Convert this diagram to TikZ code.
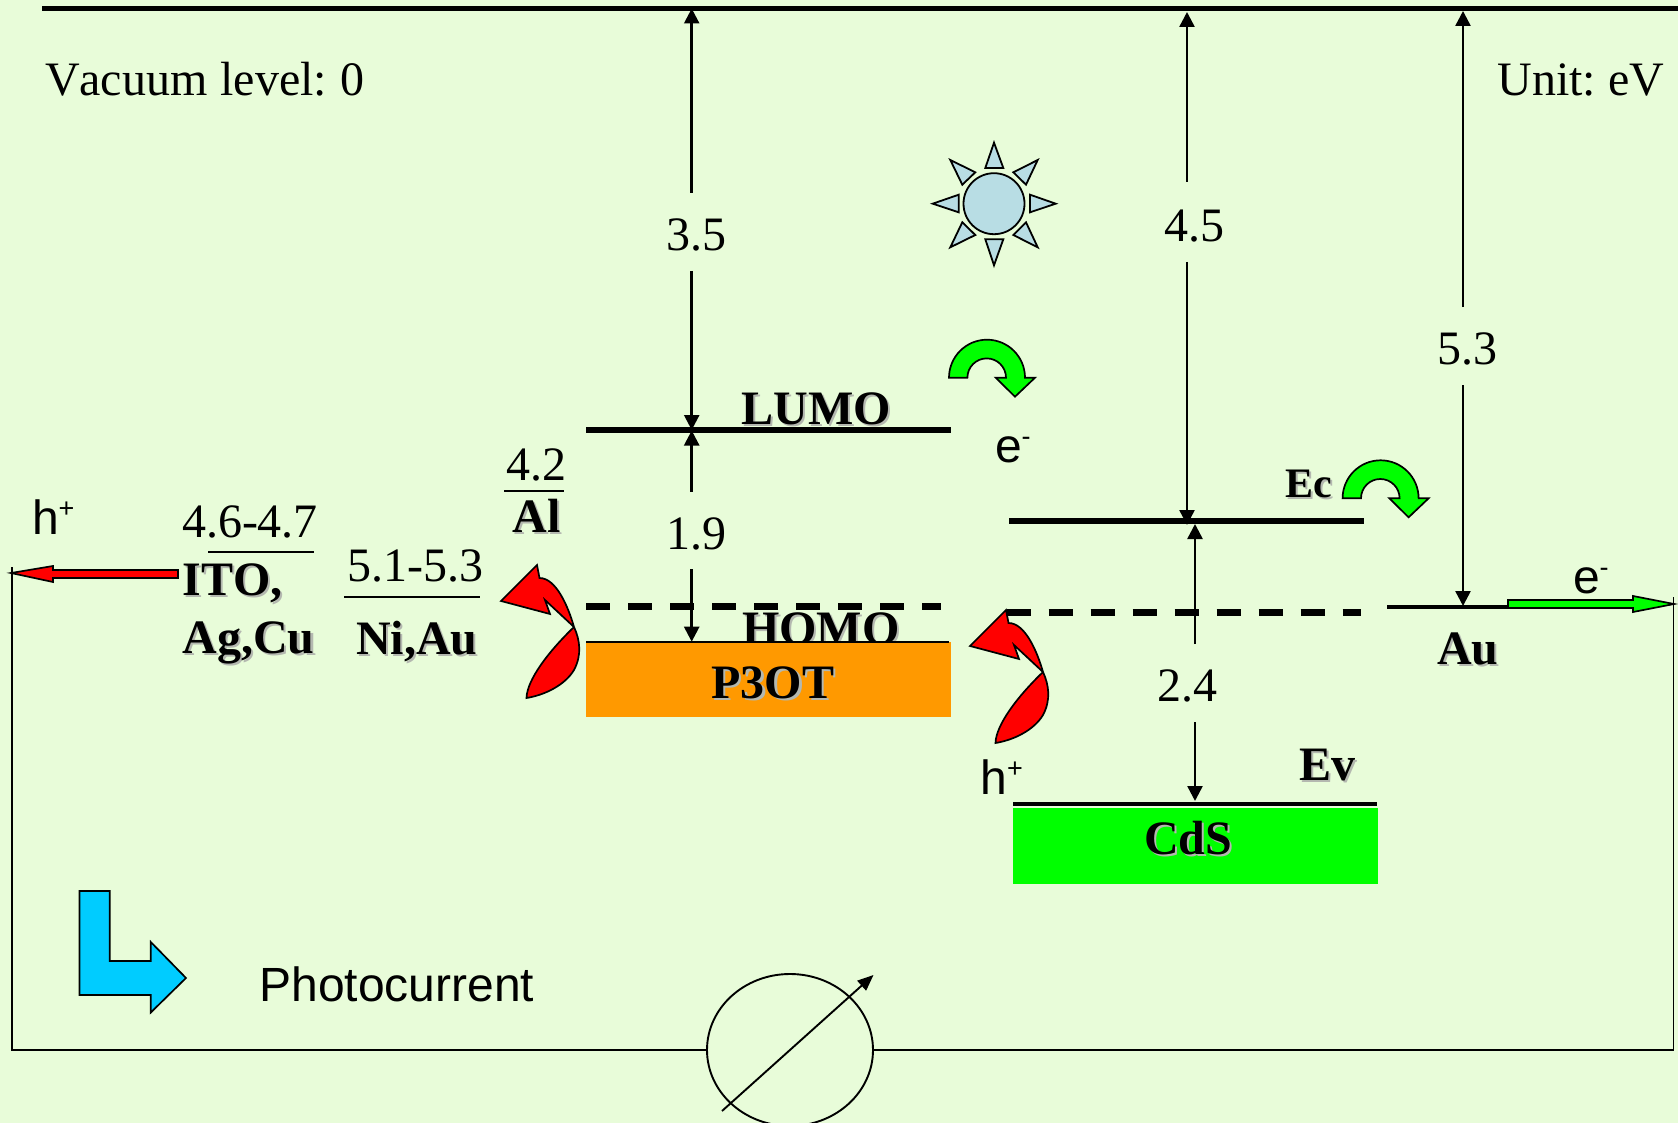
\documentclass[tikz,border=0pt]{standalone}
\usepackage{fontspec}
\setmainfont[Kerning=Off]{Liberation Serif}
\newfontfamily\lsans{Liberation Sans}
\usetikzlibrary{arrows.meta,shapes.geometric}
\definecolor{bgc}{HTML}{E8FCD9}
\definecolor{sunc}{HTML}{B8DDE4}
\definecolor{blu}{HTML}{00CCFF}
\definecolor{org}{HTML}{FF9900}
\definecolor{grn}{HTML}{00FF00}
\definecolor{shd}{HTML}{B4B8B0}
\newcommand{\shtxt}[1]{\leavevmode\rlap{\hspace{2.2pt}\raisebox{-2.2pt}{\textcolor{shd}{\bfseries #1}}}{\bfseries #1}}
\newcommand{\supr}[1]{\raisebox{.34em}{\fontsize{27}{27}\selectfont #1}}
\tikzset{
 lbl/.style={anchor=base west,inner sep=0pt,outer sep=0pt,font=\fontsize{48}{50}\selectfont\frenchspacing},
 lblc/.style={lbl,anchor=base},
 sanslbl/.style={lbl,font=\fontsize{48}{50}\selectfont\lsans},
 thinln/.style={line width=1.8pt,black},
 dimline/.style={line width=2.5pt,black},
 tiparrow/.style={-{Triangle[length=15pt,width=15pt]}},
 level/.style={line width=6.3pt,black},
 hdash/.style={line width=6.6pt,black,dash pattern=on 24pt off 18pt},
 redshape/.style={fill=red,draw=black,line width=1.7pt,line join=miter},
 grnshape/.style={fill=grn,draw=black,line width=1.7pt},
 sunshape/.style={fill=sunc,draw=black,line width=1.8pt},
 curvedred/.pic={
   \draw[redshape] (501,601) -- (537,565) -- (539.5,578)
     .. controls (556,578) and (568,606) .. (574,627)
     .. controls (580,640) and (582,655) .. (574,670)
     .. controls (565,685) and (545,695) .. (526.5,698)
     .. controls (527,680) and (548,652) .. (574,627)
     -- (545,600) -- (550,614) -- cycle;
 },
 curvedgreen/.pic={
   \draw[grnshape] (949,377.7) arc[start angle=180,end angle=360,radius=38]
     -- (1035,377.7) -- (1015,396.7) -- (995.7,377.7) -- (1006,377.7)
     arc[start angle=0,end angle=-180,radius=19.3] -- cycle;
 },
}
\begin{document}
\begin{tikzpicture}[x=1pt,y=-1pt]
\useasboundingbox (0,0) rectangle (1678,1123);
\clip (0,0) rectangle (1678,1123);
\fill[bgc] (0,0) rectangle (1678,1123);
% reference coordinates
\coordinate (topL) at (42,8.5); \coordinate (topR) at (1678,8.5);
\coordinate (lumoL) at (586,430); \coordinate (lumoR) at (951,430);
\coordinate (homoL) at (586,606.7); \coordinate (homoR) at (941,606.7);
\coordinate (ecL) at (1009,521); \coordinate (ecR) at (1364,521);
\coordinate (cdsL) at (1006.7,612.3); \coordinate (cdsR) at (1361,612.3);
\coordinate (evL) at (1013,804.2); \coordinate (evR) at (1377,804.2);
\coordinate (auL) at (1387,607); \coordinate (auR) at (1512,607);
\coordinate (wTL) at (12,567); \coordinate (wBL) at (12,1050);
\coordinate (wTR) at (1673.5,597); \coordinate (wBR) at (1673.5,1050);
% HOMO sits behind the orange bar
\node[lbl] (homo) at (742,644.5) {\shtxt{HOMO}};
% bars
\node[fill=org,inner sep=0pt,minimum width=365pt,minimum height=75.3pt,anchor=north west] (p3otbar) at (586,641.7) {};
\draw[line width=2pt] (586,642) -- (949,642);
\node[fill=grn,inner sep=0pt,minimum width=365pt,minimum height=76.5pt,anchor=north west] (cdsbar) at (1013,807.5) {};
% levels
\draw[line width=5.5pt] (topL) -- (topR);
\draw[level] (lumoL) -- (lumoR);
\draw[hdash] (homoL) -- (homoR);
\draw[level] (ecL) -- (ecR);
\draw[hdash] (cdsL) -- (cdsR);
\draw[line width=4pt] (evL) -- (evR);
\draw[line width=4pt] (auL) -- (auR);
% energy values
\node[lblc] (v35) at (696,251) {3.5};
\node[lblc] (v19) at (696.5,549) {1.9};
\node[lblc] (v45) at (1194,241.5) {4.5};
\node[lblc] (v24) at (1187,701) {2.4};
\node[lblc] (v53) at (1467,364.5) {5.3};
% dimension arrows
\coordinate (a35a) at (691.7,8.5); \coordinate (a35b) at (691.7,193);
\coordinate (a35c) at (691.7,271); \coordinate (a35d) at (691.7,430);
\coordinate (a19a) at (691.7,430.5); \coordinate (a19b) at (691.7,491.7);
\coordinate (a19c) at (691.7,569); \coordinate (a19d) at (691.7,641.7);
\coordinate (a45a) at (1187,12); \coordinate (a45b) at (1187,182);
\coordinate (a45c) at (1187,262); \coordinate (a45d) at (1187,525);
\coordinate (a24a) at (1195,524); \coordinate (a24b) at (1195,644);
\coordinate (a24c) at (1195,722); \coordinate (a24d) at (1195,801);
\coordinate (a53a) at (1463,11); \coordinate (a53b) at (1463,307);
\coordinate (a53c) at (1463,385); \coordinate (a53d) at (1463,606);
\draw[dimline,tiparrow] (a35b) -- (a35a);
\draw[dimline,tiparrow] (a35c) -- (a35d);
\draw[dimline,tiparrow] (a19b) -- (a19a);
\draw[dimline,tiparrow] (a19c) -- (a19d);
\draw[dimline,tiparrow] (a45b) -- (a45a);
\draw[dimline,tiparrow] (a45c) -- (a45d);
\draw[dimline,tiparrow] (a24b) -- (a24a);
\draw[dimline,tiparrow] (a24c) -- (a24d);
\draw[dimline,tiparrow] (a53b) -- (a53a);
\draw[dimline,tiparrow] (a53c) -- (a53d);
% circuit
\node[draw=black,line width=1.9pt,ellipse,inner sep=0pt,minimum width=166pt,minimum height=152pt,fill=none] (meter) at (790,1050) {};
\draw[thinln] (wTL) -- (wBL) -- (meter.west);
\draw[thinln] (wTR) -- (wBR) -- (meter.east);
\coordinate (mA) at (722,1111); \coordinate (mB) at (873.5,975);
\draw[line width=1.9pt,-{Triangle[length=16pt,width=13pt]}] (mA) -- (mB);
% side arrows
\draw[redshape] (11,573) -- (53,566) -- (53,570) -- (178,570) -- (178,578) -- (53,578) -- (53,582) -- cycle;
\draw[grnshape] (1508,600) -- (1633,600) -- (1633,596) -- (1674,604) -- (1633,612) -- (1633,608) -- (1508,608) -- cycle;
% curved arrows
\pic {curvedred};
\pic[shift={(469,45)}] {curvedred};
\pic {curvedgreen};
\pic[shift={(393.6,120.6)}] {curvedgreen};
% sun
\node[draw=black,line width=1.8pt,fill=sunc,circle,inner sep=0pt,minimum size=61pt] (sun) at (994,203.7) {};
\draw[sunshape] (994,142.7) -- (985.3,168) -- (1003.3,168) -- cycle;
\draw[sunshape] (994,265.3) -- (985.3,239.3) -- (1003.3,239.3) -- cycle;
\draw[sunshape] (1055.7,203.7) -- (1030,194.7) -- (1030,212.3) -- cycle;
\draw[sunshape] (932.7,203.7) -- (958.7,194.7) -- (958.7,212.3) -- cycle;
\draw[sunshape] (1037.7,160) -- (1013.3,172.3) -- (1026,184.7) -- cycle;
\draw[sunshape] (950.3,160) -- (975.3,172.3) -- (962.3,184.7) -- cycle;
\draw[sunshape] (1037.7,247.3) -- (1013.3,235) -- (1026,222.3) -- cycle;
\draw[sunshape] (950.3,247.3) -- (975.3,235) -- (962.3,222.3) -- cycle;
% blue bent arrow
\draw[fill=blu,draw=black,line width=1.7pt] (79.4,891) -- (109.8,891) -- (109.8,961) -- (150.8,961) -- (150.8,942) -- (186,978) -- (150.8,1012.5) -- (150.8,995) -- (79.4,995) -- cycle;
% fraction bars
\coordinate (f1a) at (208,552); \coordinate (f1b) at (314,552);
\coordinate (f2a) at (344,597); \coordinate (f2b) at (480,597);
\coordinate (f3a) at (504,491); \coordinate (f3b) at (564,491);
\draw[thinln] (f1a) -- (f1b);
\draw[thinln] (f2a) -- (f2b);
\draw[thinln] (f3a) -- (f3b);
% texts
\node[lbl] (vac) at (45,96) {Vacuum\hspace{13pt}level:\hspace{13pt}0};
\node[lbl,anchor=base east] (unit) at (1664,96) {Unit: eV};
\node[lbl] (lumo) at (741.5,424) {\shtxt{LUMO}};
\node[lbl] (p3ot) at (711.5,698) {\shtxt{P3OT}};
\node[lbl] (cds) at (1144,854) {\shtxt{CdS}};
\node[lbl] (ev) at (1299,780.5) {\shtxt{Ev}};
\node[lbl,font=\fontsize{42}{44}\selectfont] (ec) at (1285.5,497) {\shtxt{Ec}};
\node[lbl] (au) at (1437,664) {\shtxt{Au}};
\node[lbl] (al) at (512.5,532) {\shtxt{Al}};
\node[lbl] (n42) at (506,480.5) {4.2};
\node[lbl] (n46) at (182,537) {4.6-4.7};
\node[lbl] (n51) at (347.5,581) {5.1-5.3};
\node[lbl] (ito) at (182.5,595) {\shtxt{ITO,}};
\node[lbl] (agcu) at (182.5,653) {\shtxt{Ag,Cu}};
\node[lbl] (niau) at (356,654) {\shtxt{Ni,Au}};
\node[sanslbl] (h1) at (32,534) {h\supr{+}};
\node[sanslbl] (h2) at (980.5,794) {h\supr{+}};
\node[sanslbl] (e1) at (995,462) {e\supr{-}};
\node[sanslbl] (e2) at (1573,593) {e\supr{-}};
\node[sanslbl] (photo) at (259.5,1001.7) {Photocurrent};
\end{tikzpicture}
\end{document}
